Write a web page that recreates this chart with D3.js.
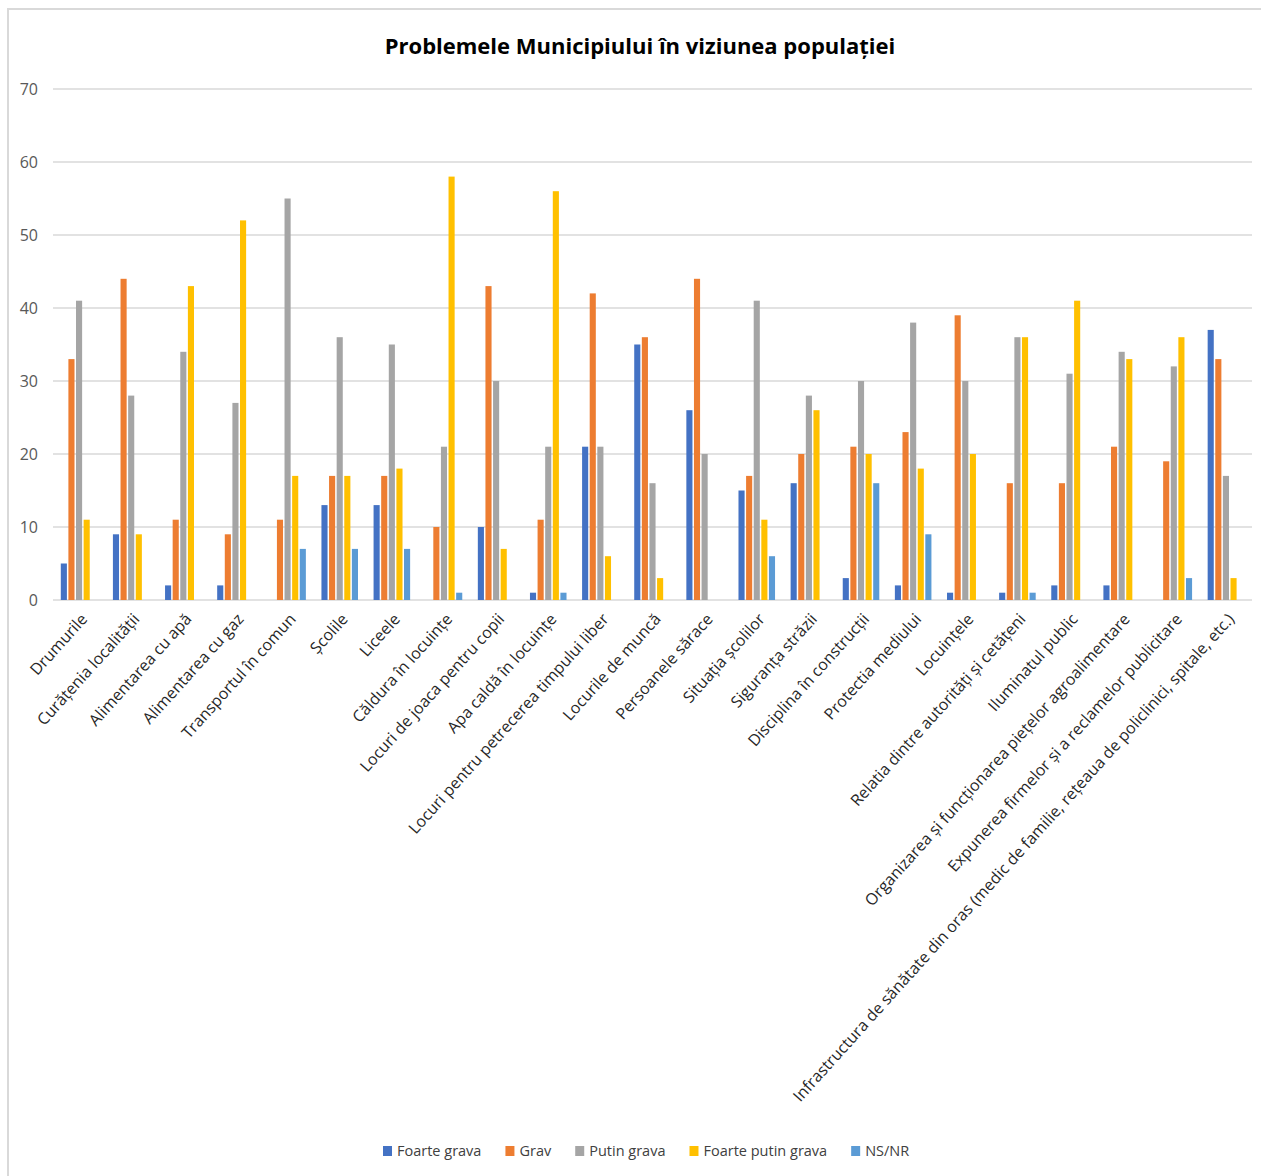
<!DOCTYPE html>
<html lang="ro">
<head>
<meta charset="utf-8">
<title>Problemele Municipiului</title>
<script src="https://d3js.org/d3.v7.min.js"></script>
<style>
  body { margin: 0; background: #fff; }
  text { font-family: "Open Sans", "Noto Sans", sans-serif; }
</style>
</head>
<body>
<script>
var W = 1261, H = 1176;

// categories & series
var categories = [
  "Drumurile", "Curățenia localității", "Alimentarea cu apă", "Alimentarea cu gaz",
  "Transportul în comun", "Școlile", "Liceele", "Căldura în locuințe",
  "Locuri de joaca pentru copii", "Apa caldă în locuințe",
  "Locuri pentru petrecerea  timpului liber", "Locurile de muncă", "Persoanele sărace",
  "Situația școlilor", "Siguranța străzii", "Disciplina în construcții",
  "Protectia mediului", "Locuințele", "Relatia dintre autorități și cetățeni",
  "Iluminatul public", "Organizarea și funcționarea piețelor agroalimentare",
  "Expunerea firmelor și a reclamelor publicitare",
  "Infrastructura de sănătate din oras (medic de familie, rețeaua de policlinici, spitale, etc.)"
];
var seriesNames = ["Foarte grava", "Grav", "Putin grava", "Foarte putin grava", "NS/NR"];
var colors = ["#4472C4", "#ED7D31", "#A5A5A5", "#FFC000", "#5B9BD5"];

var foarteGrava      = [5, 9, 2, 2, 0, 13, 13, 0, 10, 1, 21, 35, 26, 15, 16, 3, 2, 1, 1, 2, 2, 0, 37];
var grav             = [33, 44, 11, 9, 11, 17, 17, 10, 43, 11, 42, 36, 44, 17, 20, 21, 23, 39, 16, 16, 21, 19, 33];
var putinGrava       = [41, 28, 34, 27, 55, 36, 35, 21, 30, 21, 21, 16, 20, 41, 28, 30, 38, 30, 36, 31, 34, 32, 17];
var foartePutinGrava = [11, 9, 43, 52, 17, 17, 18, 58, 7, 56, 6, 3, 0, 11, 26, 20, 18, 20, 36, 41, 33, 36, 3];
var nsnr             = [0, 0, 0, 0, 7, 7, 7, 1, 0, 1, 0, 0, 0, 6, 0, 16, 9, 0, 1, 0, 0, 3, 0];
var yTicks = [0, 10, 20, 30, 40, 50, 60, 70];

var series = [foarteGrava, grav, putinGrava, foartePutinGrava, nsnr];

var svg = d3.select("body").append("svg")
  .attr("width", W).attr("height", H);

// chart frame
svg.append("rect")
  .attr("x", 8).attr("y", 9)
  .attr("width", W + 10).attr("height", H + 10)
  .attr("fill", "#fff")
  .attr("stroke", "#D9D9D9").attr("stroke-width", 2);

var plotLeft = 53, plotRight = 1252, plotTop = 89, plotBottom = 600;

var x = d3.scaleBand().domain(d3.range(categories.length))
  .range([plotLeft, plotRight]).paddingInner(0.27).paddingOuter(0.135);
var xs = d3.scaleBand().domain(d3.range(seriesNames.length))
  .range([0, x.bandwidth()]);
var y = d3.scaleLinear().domain([0, 70]).range([plotBottom, plotTop]);

// title
svg.append("text")
  .attr("x", 640).attr("y", 54)
  .attr("text-anchor", "middle")
  .attr("font-size", 22).attr("font-weight", "bold")
  .attr("fill", "#000")
  .text("Problemele Municipiului în viziunea populației");

// gridlines
svg.append("g").selectAll("line")
  .data(yTicks).enter().append("line")
  .attr("x1", plotLeft).attr("x2", plotRight)
  .attr("y1", function(d) { return y(d); })
  .attr("y2", function(d) { return y(d); })
  .attr("stroke", "#D9D9D9").attr("stroke-width", 1.5);

// y axis labels
var yAxis = d3.axisLeft(y).tickValues(yTicks).tickSize(0).tickPadding(15);
var yg = svg.append("g").attr("transform", "translate(" + plotLeft + ",0)").call(yAxis);
yg.select(".domain").remove();
yg.selectAll("text")
  .attr("font-size", 16).attr("fill", "#595959")
  .style("font-family", "'Open Sans', sans-serif");

// bars (zero values are simply not drawn)
var groups = svg.append("g").selectAll("g")
  .data(series).enter().append("g")
  .attr("fill", function(d, i) { return colors[i]; });

groups.each(function(vals, si) {
  var pts = vals.map(function(v, ci) { return { ci: ci, v: v }; })
    .filter(function(p) { return p.v > 0; });
  d3.select(this).selectAll("rect")
    .data(pts).enter().append("rect")
    .attr("x", function(p) { return x(p.ci) + xs(si) + 0.75; })
    .attr("width", xs.bandwidth() - 1.5)
    .attr("y", function(p) { return y(p.v); })
    .attr("height", function(p) { return y(0) - y(p.v); });
});

// x labels, rotated
svg.append("g").selectAll("text")
  .data(categories).enter().append("text")
  .attr("transform", function(d, i) {
    var cx = x(i) + x.bandwidth() / 2;
    return "translate(" + (cx + 5) + "," + 616 + ") rotate(-48)";
  })
  .attr("text-anchor", "end")
  .attr("dy", "0.35em")
  .attr("font-size", 16)
  .attr("fill", "#262626")
  .text(function(d) { return d; });

// legend
var legend = svg.append("g").attr("transform", "translate(0,1151)");
var lx = 383;
seriesNames.forEach(function(name, i) {
  var g = legend.append("g").attr("transform", "translate(" + lx + ",0)");
  g.append("rect").attr("x", 0).attr("y", -5).attr("width", 9).attr("height", 10)
    .attr("fill", colors[i]);
  var t = g.append("text").attr("x", 14).attr("dy", "0.35em")
    .attr("font-size", 14.5).attr("fill", "#404040").text(name);
  lx += 14 + t.node().getComputedTextLength() + 24;
});
</script>
</body>
</html>
